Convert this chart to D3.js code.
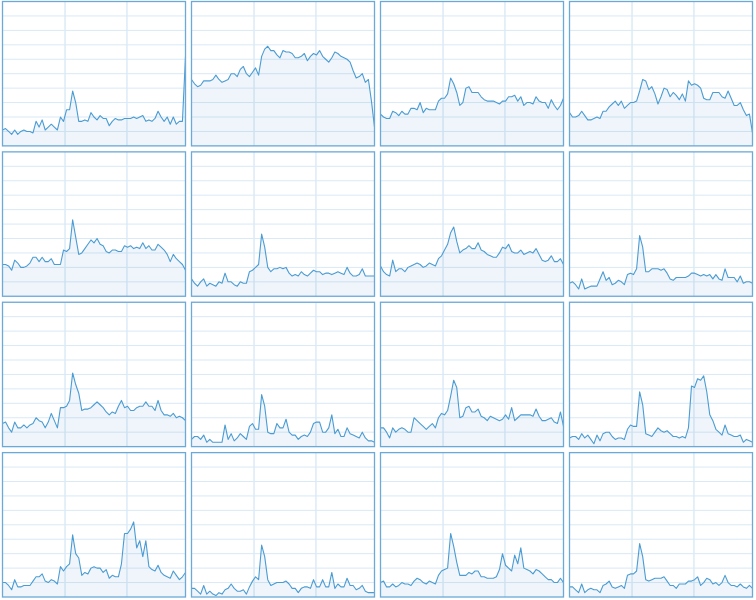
<!DOCTYPE html>
<html>
<head>
<meta charset="utf-8">
<script src="https://cdn.jsdelivr.net/npm/d3@7"></script>
<style>
  body { margin: 0; background: #fff; }
  svg { display: block; }
</style>
</head>
<body>
<svg width="756" height="600"></svg>
<script>
// per-core CPU usage (%) over the last 60 seconds, one array per logical processor
var cpu0  = [11,12,10,8,11,8,10,11,10,10,9,17,13,18,11,13,15,13,11,20,17,25,25,38,30,17,17,18,17,23,20,18,21,19,19,14,17,19,18,18,19,19,19,20,19,20,21,17,18,17,19,24,20,17,20,15,20,15,17,17,62];
var cpu1  = [46,43,41,42,45,45,45,46,49,46,44,45,46,50,50,48,53,55,50,48,51,54,49,62,67,69,66,66,63,61,66,65,65,64,61,61,62,64,59,62,64,63,66,62,60,58,61,65,64,62,61,60,58,52,47,48,50,44,46,31,13];
var cpu2  = [22,20,19,19,24,23,21,24,22,22,26,26,25,30,23,26,25,25,25,31,33,33,36,47,43,37,28,30,40,41,37,37,37,34,32,31,31,31,30,29,31,31,34,34,35,31,34,28,30,30,29,34,31,30,30,26,32,28,25,28,33];
var cpu3  = [23,20,20,21,24,21,18,18,19,20,19,24,24,27,29,31,28,31,26,28,30,30,31,38,46,45,39,41,36,29,34,40,39,34,37,35,32,36,31,45,42,43,42,40,33,32,32,37,37,37,34,33,38,33,28,28,30,25,21,22,9];
var cpu4  = [22,22,21,18,25,23,20,20,21,23,27,27,24,27,24,24,26,22,22,22,32,31,33,53,41,29,30,33,36,39,37,40,36,35,31,30,32,32,31,31,35,34,35,33,34,33,37,33,35,32,32,36,34,32,29,24,29,26,24,22,18];
var cpu5  = [12,9,7,10,12,7,9,8,7,10,9,16,10,10,8,7,10,9,9,17,18,20,22,43,34,20,17,19,19,20,19,20,16,14,15,14,17,15,14,16,18,17,17,15,16,16,15,16,17,16,15,20,16,14,14,15,19,14,14,14,14];
var cpu6  = [21,17,15,14,25,17,19,19,17,20,21,22,23,22,20,21,23,22,21,26,28,32,36,44,48,38,30,32,33,35,33,33,37,32,31,29,28,27,27,30,34,33,36,31,30,30,32,29,30,31,30,33,29,25,24,25,28,24,24,26,22];
var cpu7  = [9,10,8,5,12,5,6,7,7,7,12,17,11,13,8,9,11,10,8,15,16,15,19,42,34,17,17,19,19,19,18,19,16,12,11,13,13,13,13,14,16,16,15,14,15,14,15,12,15,12,11,19,13,13,13,10,14,9,10,10,9];
var cpu8  = [16,17,13,10,17,13,13,15,13,15,16,20,18,17,13,17,23,18,13,27,27,28,32,51,43,37,25,26,26,27,29,31,29,27,24,22,24,23,28,32,27,28,25,25,27,28,28,31,28,28,25,32,25,22,22,21,23,20,21,20,18];
var cpu9  = [5,7,7,5,8,3,5,3,3,3,3,15,5,9,4,6,9,7,5,14,16,12,12,36,28,10,9,9,16,13,13,19,10,8,8,5,7,8,7,10,16,17,17,10,10,13,22,9,12,7,7,13,9,8,7,6,10,6,4,4,3];
var cpu10 = [13,13,10,6,13,10,12,13,12,10,10,20,18,16,14,12,14,16,13,20,23,22,25,35,46,41,20,21,27,28,24,24,26,21,20,18,21,20,19,18,19,22,19,27,18,20,22,22,22,22,21,26,21,18,18,19,20,17,16,24,14];
var cpu11 = [6,7,7,5,9,6,8,5,2,8,4,9,10,10,7,5,6,6,5,12,15,14,14,38,29,9,8,7,10,13,11,10,11,9,7,7,6,7,6,13,42,41,47,46,49,38,22,18,12,10,8,15,9,8,7,7,8,3,5,4,3];
var cpu12 = [10,10,8,5,12,7,7,8,8,8,11,14,14,16,11,10,12,11,9,21,18,21,23,43,30,27,15,17,16,20,21,20,20,17,19,13,15,14,14,23,44,44,47,52,34,39,28,39,21,19,18,22,17,15,14,13,18,15,12,14,17];
var cpu13 = [6,6,4,2,8,2,4,2,1,3,2,5,6,9,6,4,4,5,2,7,11,14,12,36,28,12,8,9,10,10,10,11,9,6,6,3,6,7,7,6,12,7,7,12,7,7,17,6,9,7,7,13,8,8,5,6,8,4,3,3,3];
var cpu14 = [10,11,7,7,9,7,8,10,9,9,8,11,13,12,10,9,11,10,9,15,18,19,20,44,35,24,15,15,15,17,16,18,18,14,14,13,13,13,14,19,30,22,20,18,29,23,34,20,19,18,16,19,18,16,14,12,12,10,10,13,10];
var cpu15 = [7,7,5,3,9,3,5,6,5,5,3,8,9,11,7,6,7,8,6,15,16,16,18,37,28,12,11,12,13,13,13,14,11,8,8,6,9,9,9,11,11,12,14,8,10,13,12,9,10,8,10,15,10,8,8,7,9,7,6,8,6];

var cores = [cpu0, cpu1, cpu2, cpu3, cpu4, cpu5, cpu6, cpu7,
             cpu8, cpu9, cpu10, cpu11, cpu12, cpu13, cpu14, cpu15];

var hGrid = d3.range(10, 100, 10);   // every 10 %
var vGrid = [20.5, 40.8];            // scrolling time grid (seconds)

var svg = d3.select("svg");

var col = d3.scaleBand().domain(d3.range(4)).range([2.5, 752.5]).paddingInner(6 / 189);
var row = d3.scaleBand().domain(d3.range(4)).range([1.5, 597]).paddingInner(6 / 150.5);

var w = col.bandwidth(),
    h = row.bandwidth();

var x = d3.scaleLinear().domain([0, 60]).range([0, w]);
var y = d3.scaleLinear().domain([0, 100]).range([h, 0]);

var area = d3.area()
    .x(function(d, i) { return x(i); })
    .y0(h)
    .y1(function(d) { return y(d); });

var line = d3.line()
    .x(function(d, i) { return x(i); })
    .y(function(d) { return y(d); });

var panel = svg.selectAll("g.core")
  .data(cores)
  .enter().append("g")
    .attr("class", "core")
    .attr("transform", function(d, i) {
      return "translate(" + col(i % 4) + "," + row(Math.floor(i / 4)) + ")";
    });

panel.append("rect")
    .attr("width", w)
    .attr("height", h)
    .attr("fill", "#fff");

panel.selectAll("line.h")
  .data(hGrid)
  .enter().append("line")
    .attr("class", "h")
    .attr("x1", 0).attr("x2", w)
    .attr("y1", function(d) { return y(d); })
    .attr("y2", function(d) { return y(d); })
    .attr("stroke", "#d9e9f6")
    .attr("stroke-width", 1);

panel.selectAll("line.v")
  .data(vGrid)
  .enter().append("line")
    .attr("class", "v")
    .attr("y1", 0).attr("y2", h)
    .attr("x1", function(d) { return x(d); })
    .attr("x2", function(d) { return x(d); })
    .attr("stroke", "#d9e9f6")
    .attr("stroke-width", 1.4);

panel.append("path")
    .attr("d", function(d) { return area(d); })
    .attr("fill", "#4a90c8")
    .attr("fill-opacity", 0.09);

panel.append("path")
    .attr("d", function(d) { return line(d); })
    .attr("fill", "none")
    .attr("stroke", "#4b9cd3")
    .attr("stroke-width", 1.1)
    .attr("stroke-linejoin", "round");

panel.append("rect")
    .attr("width", w)
    .attr("height", h)
    .attr("fill", "none")
    .attr("stroke", "#6aa9d8")
    .attr("stroke-width", 1.3);
</script>
</body>
</html>
